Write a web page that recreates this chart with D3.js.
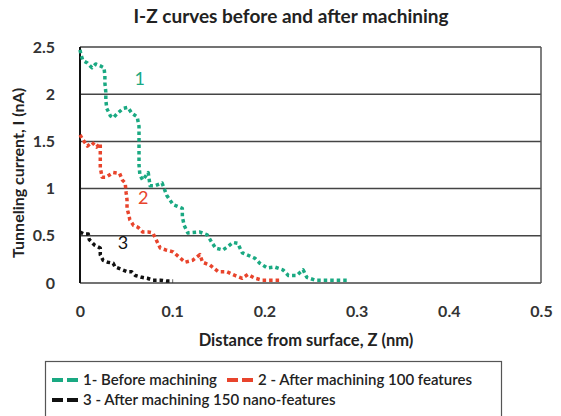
<!DOCTYPE html>
<html>
<head>
<meta charset="utf-8">
<script src="https://cdn.jsdelivr.net/npm/d3@7"></script>
<style>
  body { margin: 0; background: #fff; }
  svg text { font-family: Lato, "Open Sans", sans-serif; }
</style>
</head>
<body>
<div id="chart"></div>
<script>
// ---- data ----
const xTicks = [0, 0.1, 0.2, 0.3, 0.4, 0.5];
const yTicks = [0, 0.5, 1, 1.5, 2, 2.5];

// series 1 - before machining  [Z (nm), I (nA)]
const beforeMachining = [
    [0, 2.47], [0.001, 2.42], [0.003, 2.36], [0.008, 2.33], [0.013, 2.28], [0.017, 2.32],
    [0.022, 2.30], [0.026, 2.28], [0.027, 2.20], [0.027, 2.12], [0.028, 2.02], [0.028, 1.94],
    [0.029, 1.85], [0.033, 1.77], [0.036, 1.75], [0.041, 1.80], [0.047, 1.85], [0.052, 1.86],
    [0.056, 1.80], [0.062, 1.76], [0.064, 1.66], [0.064, 1.57], [0.064, 1.46], [0.064, 1.36],
    [0.064, 1.25], [0.065, 1.14], [0.068, 1.09], [0.074, 1.17], [0.076, 1.03], [0.081, 1.03],
    [0.089, 1.06], [0.094, 0.93], [0.101, 0.83], [0.111, 0.79], [0.111, 0.70], [0.113, 0.61],
    [0.117, 0.53], [0.130, 0.54], [0.138, 0.51], [0.143, 0.43], [0.147, 0.37], [0.155, 0.35],
    [0.161, 0.39], [0.166, 0.43], [0.171, 0.42], [0.176, 0.32], [0.181, 0.30], [0.190, 0.26],
    [0.195, 0.21], [0.203, 0.16], [0.211, 0.17], [0.220, 0.14], [0.226, 0.08], [0.235, 0.08],
    [0.242, 0.14], [0.246, 0.06], [0.255, 0.03], [0.264, 0.03], [0.272, 0.03], [0.281, 0.03],
    [0.290, 0.03]
];

// series 2 - after machining 100 features
const after100 = [
    [0, 1.57], [0.003, 1.52], [0.008, 1.45], [0.013, 1.49], [0.018, 1.44], [0.022, 1.48],
    [0.022, 1.38], [0.022, 1.30], [0.022, 1.22], [0.024, 1.12], [0.028, 1.12], [0.036, 1.17],
    [0.043, 1.16], [0.046, 1.09], [0.049, 1.06], [0.050, 0.96], [0.051, 0.88], [0.051, 0.79],
    [0.053, 0.72], [0.054, 0.67], [0.058, 0.61], [0.063, 0.59], [0.068, 0.54], [0.074, 0.54],
    [0.079, 0.53], [0.083, 0.45], [0.087, 0.37], [0.093, 0.35], [0.101, 0.33], [0.108, 0.27],
    [0.114, 0.22], [0.122, 0.24], [0.130, 0.30], [0.133, 0.22], [0.141, 0.19], [0.150, 0.12],
    [0.159, 0.12], [0.168, 0.08], [0.176, 0.05], [0.182, 0.09], [0.190, 0.05], [0.198, 0.03],
    [0.208, 0.03], [0.217, 0.03]
];

// series 3 - after machining 150 nano-features
const after150 = [
    [0, 0.54], [0.004, 0.52], [0.009, 0.52], [0.010, 0.46], [0.013, 0.43], [0.016, 0.40],
    [0.022, 0.37], [0.022, 0.30], [0.025, 0.24], [0.030, 0.22], [0.036, 0.21], [0.038, 0.17],
    [0.046, 0.14], [0.051, 0.12], [0.056, 0.12], [0.060, 0.08], [0.067, 0.06], [0.073, 0.05],
    [0.079, 0.03], [0.087, 0.03], [0.094, 0.02], [0.101, 0.02]
];

const seriesNames = ["1- Before machining", "2 - After machining 100 features", "3 - After machining 150 nano-features"];
const seriesColors = ["#1aa982", "#e8442c", "#111111"];
const curveLabels = ["1", "2", "3"];
// where each curve's number sits, in data units
const curveLabelAt = [[0.059, 2.1], [0.063, 0.84], [0.041, 0.36]];

// ---- layout ----
const width = 561, height = 416;
const margin = { top: 47, right: 20, bottom: 133, left: 80 };
const plotW = 541 - margin.left;
const plotH = 283 - margin.top;

const svg = d3.select("#chart").append("svg")
    .attr("width", width)
    .attr("height", height);

const x = d3.scaleLinear().domain([0, 0.5]).range([margin.left, margin.left + plotW]);
const y = d3.scaleLinear().domain([0, 2.5]).range([margin.top + plotH, margin.top]);

// title
svg.append("text")
    .attr("x", 291)
    .attr("y", 23)
    .attr("text-anchor", "middle")
    .attr("font-size", 19)
    .attr("font-weight", "bold")
    .attr("fill", "#222")
    .text("I-Z curves before and after machining");

// gridlines
svg.append("g")
    .selectAll("line")
    .data(yTicks)
    .join("line")
    .attr("x1", x(0))
    .attr("x2", x(0.5))
    .attr("y1", d => y(d))
    .attr("y2", d => y(d))
    .attr("stroke", "#444")
    .attr("stroke-width", 1.5);

// plot frame (right side) and left axis
svg.append("line")
    .attr("x1", x(0.5)).attr("x2", x(0.5))
    .attr("y1", y(2.5)).attr("y2", y(0))
    .attr("stroke", "#555").attr("stroke-width", 1.5);
svg.append("line")
    .attr("x1", x(0)).attr("x2", x(0))
    .attr("y1", y(2.5)).attr("y2", y(0))
    .attr("stroke", "#111").attr("stroke-width", 2);

// axes (labels only)
const yAxis = svg.append("g")
    .attr("transform", `translate(${x(0) - 22},0)`)
    .call(d3.axisLeft(y).tickValues(yTicks).tickSize(0).tickFormat(d3.format("")));
yAxis.select(".domain").remove();
yAxis.selectAll("text")
    .attr("font-size", 16)
    .attr("font-weight", "bold")
    .attr("fill", "#333")
    .attr("font-family", "Lato, sans-serif");

const xAxis = svg.append("g")
    .attr("transform", `translate(0,${y(0) + 20})`)
    .call(d3.axisBottom(x).tickValues(xTicks).tickSize(0).tickFormat(d3.format("")));
xAxis.select(".domain").remove();
xAxis.selectAll("text")
    .attr("font-size", 16)
    .attr("font-weight", "bold")
    .attr("fill", "#333")
    .attr("font-family", "Lato, sans-serif");

// axis titles
svg.append("text")
    .attr("x", 306)
    .attr("y", 346)
    .attr("text-anchor", "middle")
    .attr("font-size", 16.5)
    .attr("font-weight", "bold")
    .attr("fill", "#222")
    .text("Distance from surface, Z (nm)");

svg.append("text")
    .attr("transform", `translate(24,${y(1.25) + 8}) rotate(-90)`)
    .attr("text-anchor", "middle")
    .attr("font-size", 16)
    .attr("font-weight", "bold")
    .attr("fill", "#222")
    .text("Tunneling current, I (nA)");

// curves
const line = d3.line().x(d => x(d[0])).y(d => y(d[1]));
const allSeries = [beforeMachining, after100, after150];

svg.append("g")
    .selectAll("path")
    .data(allSeries)
    .join("path")
    .attr("d", line)
    .attr("fill", "none")
    .attr("stroke", (d, i) => seriesColors[i])
    .attr("stroke-width", 3.5)
    .attr("stroke-dasharray", "3.5 3")
    .attr("stroke-linejoin", "round");

svg.append("g")
    .selectAll("text")
    .data(curveLabels)
    .join("text")
    .attr("x", (d, i) => x(curveLabelAt[i][0]))
    .attr("y", (d, i) => y(curveLabelAt[i][1]))
    .attr("font-size", 18)
    .attr("fill", (d, i) => seriesColors[i])
    .text(d => d);

// legend
const legend = svg.append("g");
legend.append("rect")
    .attr("x", 45.5).attr("y", 361.5)
    .attr("width", 456).attr("height", 60)
    .attr("fill", "#fff")
    .attr("stroke", "#555")
    .attr("stroke-width", 1.2);

const legendPos = [[52, 380], [227, 380], [52, 400]];
const items = legend.selectAll("g.item")
    .data(seriesNames)
    .join("g")
    .attr("class", "item")
    .attr("transform", (d, i) => `translate(${legendPos[i][0]},${legendPos[i][1]})`);

items.append("line")
    .attr("x1", 0).attr("x2", 26)
    .attr("y1", 0).attr("y2", 0)
    .attr("stroke", (d, i) => seriesColors[i])
    .attr("stroke-width", 4)
    .attr("stroke-dasharray", "11 4");

items.append("text")
    .attr("x", 31)
    .attr("y", 5)
    .attr("font-size", 15)
    .attr("font-weight", 600)
    .attr("fill", "#222")
    .text(d => d);
</script>
</body>
</html>
